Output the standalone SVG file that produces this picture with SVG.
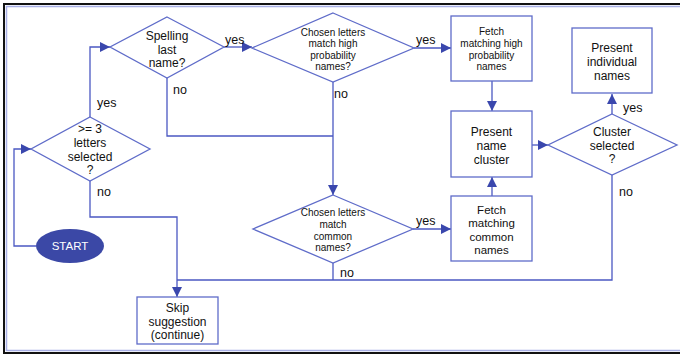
<svg xmlns="http://www.w3.org/2000/svg" width="680" height="354" viewBox="0 0 680 354">
<style>
.frame{fill:none;stroke:#111;stroke-width:2}
.inner{fill:none;stroke:#a9b0e6;stroke-width:1.5}
.shape{fill:#fff;stroke:#5f6cc9;stroke-width:1.3}
.conn{fill:none;stroke:#4b58c2;stroke-width:1.3}
.t{font-family:"Liberation Sans",Arial,sans-serif;font-size:12px;fill:#111;text-anchor:middle}
.s{font-family:"Liberation Sans",Arial,sans-serif;font-size:10px;fill:#111;text-anchor:middle}
.lbl{font-family:"Liberation Sans",Arial,sans-serif;font-size:12.5px;fill:#111}
</style>
<defs>
<marker id="ah" viewBox="0 0 10 10" refX="10" refY="5" markerWidth="10" markerHeight="10" markerUnits="userSpaceOnUse" orient="auto">
<path d="M0,0 L10,5 L0,10 z" fill="#3a47ad"/>
</marker>
</defs>
<rect width="680" height="354" fill="#fff"/>
<g id="frame">
<path class="frame" d="M680,4 H4 V353 H680"/>
<path class="inner" d="M680,6.5 H6.5 V350.5 H680"/>
</g>
<g id="connectors">
<path class="conn" d="M90,117 V47 H110" marker-end="url(#ah)"/>
<path class="conn" d="M224,47 H252" marker-end="url(#ah)"/>
<path class="conn" d="M414,48 H451" marker-end="url(#ah)"/>
<path class="conn" d="M492,81 V111" marker-end="url(#ah)"/>
<path class="conn" d="M532,145 H548" marker-end="url(#ah)"/>
<path class="conn" d="M612,114 V94" marker-end="url(#ah)"/>
<path class="conn" d="M167,78 V136 H333"/>
<path class="conn" d="M333,82 V195" marker-end="url(#ah)"/>
<path class="conn" d="M413,229 H451" marker-end="url(#ah)"/>
<path class="conn" d="M492,196 V177" marker-end="url(#ah)"/>
<path class="conn" d="M36,246 H14 V149 H31" marker-end="url(#ah)"/>
<path class="conn" d="M90,181 V217 H177 V297" marker-end="url(#ah)"/>
<path class="conn" d="M612,175 V280 H177"/>
<path class="conn" d="M333,263 V280"/>
<text class="lbl" x="97" y="107">yes</text>
<text class="lbl" x="225" y="44">yes</text>
<text class="lbl" x="416" y="44">yes</text>
<text class="lbl" x="416" y="225">yes</text>
<text class="lbl" x="623" y="112">yes</text>
<text class="lbl" x="173" y="94">no</text>
<text class="lbl" x="334" y="98">no</text>
<text class="lbl" x="97" y="196">no</text>
<text class="lbl" x="340" y="277">no</text>
<text class="lbl" x="619" y="196">no</text>
</g>
<g id="start">
<ellipse cx="70" cy="246" rx="34" ry="17" fill="#3b48a6"/>
<text class="t" x="70" y="250" fill="#fff" style="fill:#fff;font-size:11.5px">START</text>
</g>
<g id="d-letters">
<polygon class="shape" points="90,117 150,149 90,181 31,149"/>
<text class="t" x="90" y="133">&gt;= 3</text>
<text class="t" x="90" y="147">letters</text>
<text class="t" x="90" y="161">selected</text>
<text class="t" x="90" y="174">?</text>
</g>
<g id="d-spelling">
<polygon class="shape" points="167,17 224,47 167,78 110,47"/>
<text class="t" x="167" y="40">Spelling</text>
<text class="t" x="167" y="54">last</text>
<text class="t" x="167" y="67">name?</text>
</g>
<g id="d-high">
<polygon class="shape" points="333,13 414,48 333,82 252,48"/>
<text class="s" x="333" y="36">Chosen letters</text>
<text class="s" x="333" y="47">match high</text>
<text class="s" x="333" y="59">probability</text>
<text class="s" x="333" y="70">names?</text>
</g>
<g id="b-fetch-high">
<rect class="shape" x="451" y="16" width="81" height="65"/>
<text class="s" x="491.5" y="35">Fetch</text>
<text class="s" x="491.5" y="47">matching high</text>
<text class="s" x="491.5" y="59">probability</text>
<text class="s" x="491.5" y="70">names</text>
</g>
<g id="b-cluster">
<rect class="shape" x="451" y="111" width="81" height="66"/>
<text class="t" x="491.5" y="136">Present</text>
<text class="t" x="491.5" y="150">name</text>
<text class="t" x="491.5" y="164">cluster</text>
</g>
<g id="d-cluster">
<polygon class="shape" points="612,114 677,145 612,175 548,145"/>
<text class="t" x="612" y="136">Cluster</text>
<text class="t" x="612" y="150">selected</text>
<text class="t" x="612" y="163">?</text>
</g>
<g id="b-individual">
<rect class="shape" x="572" y="28" width="80" height="65"/>
<text class="t" x="612" y="52">Present</text>
<text class="t" x="612" y="66">individual</text>
<text class="t" x="612" y="80">names</text>
</g>
<g id="d-common">
<polygon class="shape" points="333,195 413,229 333,263 253,229"/>
<text class="s" x="333" y="216">Chosen letters</text>
<text class="s" x="333" y="228">match</text>
<text class="s" x="333" y="240">common</text>
<text class="s" x="333" y="251">names?</text>
</g>
<g id="b-fetch-common">
<rect class="shape" x="451" y="196" width="81" height="65"/>
<text class="t" x="491.5" y="214" style="font-size:11.5px">Fetch</text>
<text class="t" x="491.5" y="227" style="font-size:11.5px">matching</text>
<text class="t" x="491.5" y="241" style="font-size:11.5px">common</text>
<text class="t" x="491.5" y="254" style="font-size:11.5px">names</text>
</g>
<g id="b-skip">
<rect class="shape" x="137" y="297" width="81" height="47"/>
<text class="t" x="177.5" y="312">Skip</text>
<text class="t" x="177.5" y="326">suggestion</text>
<text class="t" x="177.5" y="339">(continue)</text>
</g>
</svg>
